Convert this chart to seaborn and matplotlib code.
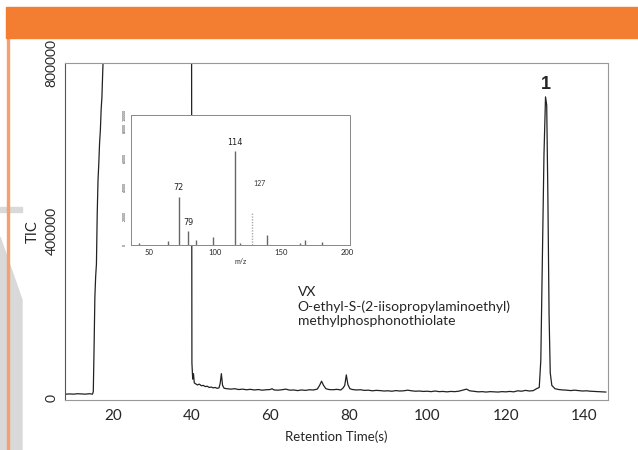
import numpy as np
import pandas as pd
import matplotlib
matplotlib.use("Agg")
import matplotlib.pyplot as plt
from matplotlib.patches import Rectangle, Polygon
import seaborn as sns

# chromatogram (retention time s, total ion current)
rt = [8.0, 9.0, 10.0, 11.0, 12.0, 13.0, 14.0, 14.8, 15.0, 15.2, 15.4, 15.6, 15.8,
      16.0, 16.2, 16.4, 16.6, 16.8, 17.0, 17.2, 17.4, 17.6, 18.0, 25.0, 39.8, 40.0,
      40.1, 40.3, 40.5, 40.7, 41.0, 41.5, 42.0, 42.5, 43.0, 43.5, 44.0, 44.5, 45.0, 45.5,
      46.0, 46.5, 47.0, 47.3, 47.6, 47.9, 48.3, 49.0, 50.0, 51.0, 52.0, 53.0, 54.0,
      55.0, 56.0, 57.0, 58.0, 59.0, 60.0, 60.5, 61.0, 62.0, 63.0, 64.0, 65.0, 66.0,
      67.0, 68.0, 69.0, 70.0, 71.0, 72.0, 72.6, 73.1, 73.6, 74.2, 75.0, 76.0, 77.0,
      78.0, 78.6, 79.0, 79.4, 79.8, 80.3, 81.0, 82.0, 83.0, 84.0, 85.0, 86.0, 87.0,
      88.0, 89.0, 90.0, 91.0, 92.0, 93.0, 94.0, 95.0, 96.0, 97.0, 98.0, 99.0, 100.0,
      101.0, 102.0, 103.0, 104.0, 105.0, 106.0, 107.0, 108.0, 109.0, 110.0, 110.8,
      112.0, 113.0, 114.0, 115.0, 116.0, 117.0, 118.0, 119.0, 120.0, 121.0, 122.0,
      123.0, 124.0, 125.0, 126.0, 127.0, 127.8, 128.5, 128.9, 129.3, 129.7, 130.1,
      130.4, 130.7, 131.0, 131.3, 131.7, 132.5, 133.5, 134.5, 135.5, 136.5, 137.5,
      138.5, 139.5, 140.5, 141.5, 142.5, 143.5, 144.5, 145.5]
tic = [9000, 9500, 9000, 10000, 9500, 9000, 10000, 9000, 15000, 120000, 240000, 290000, 320000,
       440000, 520000, 560000, 610000, 640000, 690000, 720000, 780000, 830000, 1200000, 1500000, 1200000, 1000000,
       84000, 45000, 58000, 36000, 34000, 31000, 33000, 29000, 30000, 27000, 28000, 25000, 26000, 24000,
       25000, 23000, 24000, 35000, 58000, 30000, 23000, 22000, 21000, 22000, 20000, 21000, 19500,
       20500, 19000, 20000, 18500, 19500, 20000, 22000, 19000, 18500, 19500, 21000, 18500, 19000,
       17500, 19000, 18000, 19500, 19000, 21000, 30000, 40000, 30000, 22000, 20000, 19500, 20500,
       19000, 24000, 30000, 55000, 32000, 22000, 20000, 19000, 19500, 18000, 18500, 17000, 18000,
       17500, 16500, 17000, 16000, 17500, 16500, 17000, 18500, 17000, 16000, 16500, 15500, 16000,
       15000, 16500, 15000, 15500, 14500, 15500, 15000, 16000, 18500, 21000, 17000,
       15500, 14500, 15000, 14000, 15000, 14500, 14000, 15000, 14500, 15500, 14500,
       17000, 16000, 18000, 16500, 17500, 22000, 25000, 90000, 330000, 580000, 720000,
       700000, 480000, 200000, 60000, 30000, 22000, 20000, 19000, 18500, 17500, 18500,
       17500, 16500, 17000, 16000, 15500, 15000, 14500, 14000]

# inset mass spectrum (m/z, relative abundance)
mz = [43, 65, 72.7, 80, 86, 98.5, 114.9, 118.7, 139.6, 164, 168, 181]
abund = [0.018, 0.033, 0.367, 0.11, 0.04, 0.06, 0.726, 0.013, 0.08, 0.013, 0.04, 0.026]
mz_dotted = [127.8]
abund_dotted = [0.25]
ion_labels = ["72", "79", "114"]
ion_pos = [72.7, 80, 114.9]
ion_label_y = [0.44, 0.17, 0.79]

x_ticks = [20, 40, 60, 80, 100, 120, 140]
y_ticks = [0, 200000, 400000, 600000, 800000]
y_ticklabels = ["0", "", "400000", "", "800000"]

df = pd.DataFrame({"rt": rt, "tic": tic})

sns.set_style("white")
plt.rcParams["font.family"] = ["Lato", "DejaVu Sans"]

fig = plt.figure(figsize=(6.38, 4.5), dpi=100)

# page decorations
fig.patches.append(Polygon([[0, 0], [22 / 638, 0], [22 / 638, 150 / 450], [0, 213 / 450]],
                           closed=True, transform=fig.transFigure, color="#d9d9d9", zorder=0))
fig.patches.append(Rectangle((0, 238 / 450), 22 / 638, 5 / 450, transform=fig.transFigure,
                             color="#d9d9d9", zorder=0))
fig.patches.append(Rectangle((7 / 638, 0), 2 / 638, 412 / 450, transform=fig.transFigure,
                             color="#f4a070", zorder=1))
fig.patches.append(Rectangle((6 / 638, 412 / 450), 632 / 638, 31 / 450, transform=fig.transFigure,
                             color="#f37e32", zorder=1))

ax = fig.add_axes([65 / 638, 50 / 450, 543 / 638, 337 / 450])
sns.lineplot(data=df, x="rt", y="tic", ax=ax, color="#222222", lw=0.9, legend=False)
ax.set_xlim(7.8, 146)
ax.set_ylim(-5000, 801000)
ax.set_xticks(x_ticks)
ax.set_yticks(y_ticks)
ax.set_yticklabels(y_ticklabels, rotation=90, va="center")
ax.tick_params(axis="both", labelsize=10, length=2.5, width=0.6, color="#777777", pad=3)
ax.tick_params(axis="x", pad=4, labelsize=11)
ax.set_xlabel("Retention Time(s)", fontsize=9.5, labelpad=5)
ax.set_ylabel("TIC", fontsize=10.5, labelpad=4)
for s in ["top", "right", "bottom"]:
    ax.spines[s].set_color("#999999")
    ax.spines[s].set_linestyle((0, (1, 1)))
    ax.spines[s].set_linewidth(0.8)
ax.spines["left"].set_color("#555555")
ax.spines["left"].set_linewidth(0.8)

ax.text(130.2, 750000, "1", fontsize=13, fontweight="bold", ha="center", va="center",
        family=["Liberation Sans", "DejaVu Sans"])
ax.text(67, 268000, "VX\nO-ethyl-S-(2-iisopropylaminoethyl)\nmethylphosphonothiolate",
        fontsize=10, va="top", ha="left", linespacing=1.2)

# inset spectrum
ins = fig.add_axes([131 / 638, 205 / 450, 219 / 638, 130 / 450])
ins.set_facecolor("white")
ins.vlines(mz, 0, abund, color="#666666", lw=1.0)
ins.vlines(mz_dotted, 0, abund_dotted, color="#aaaaaa", lw=1.0, linestyles=(0, (1, 1)))
for lab, p, yy in zip(ion_labels, ion_pos, ion_label_y):
    ins.text(p, yy, lab, fontsize=6.5, ha="center", va="center", family="DejaVu Sans",
             fontstretch="condensed", color="#222222")
ins.text(133.5, 0.47, "127", fontsize=5, ha="center", va="center", color="#333333")
ins.set_xlim(36.7, 202)
ins.set_ylim(0, 1.0)
ins.set_xticks([50, 100, 150, 200])
ins.set_xticklabels(["50", "100", "150", "200"], fontsize=5.5)
ins.set_yticks([0, 0.22, 0.45, 0.67, 0.9, 1.0])
ins.set_yticklabels(["0", "20000", "40000", "60000", "80000", "100000"], fontsize=2.5,
                    rotation=90, va="center")
ins.tick_params(axis="both", length=1.5, width=0.4, color="#777777", pad=1.5)
ins.set_xlabel("m/z", fontsize=5, labelpad=1)
for s in ins.spines.values():
    s.set_color("#888888")
    s.set_linewidth(0.7)
    s.set_linestyle((0, (1, 1)))

fig.savefig("out.png", dpi=100)
